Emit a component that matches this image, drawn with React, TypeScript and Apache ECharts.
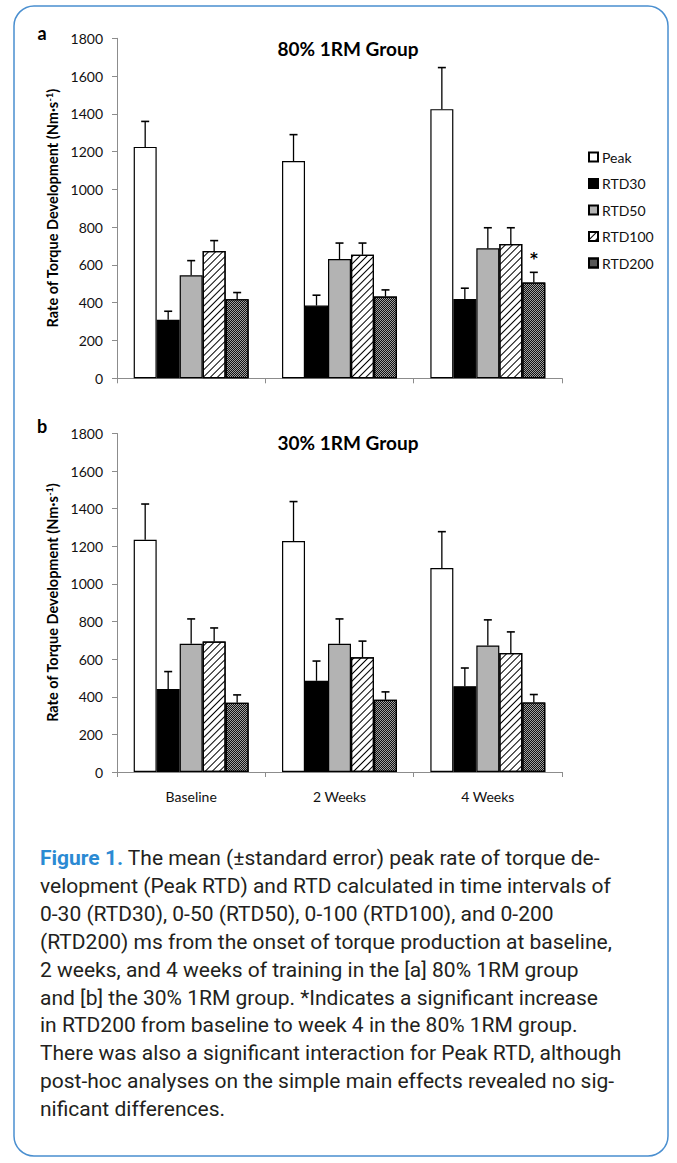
import React, { useEffect, useRef } from 'react';
import * as echarts from 'echarts';

// ---------- data ----------
const categories = ['Baseline', '2 Weeks', '4 Weeks'];
const seriesNames = ['Peak', 'RTD30', 'RTD50', 'RTD100', 'RTD200'];
const yTickMin = 0;
const yTickMax = 1800;
const yTickStep = 200;

// (a) 80% 1RM group: means and standard errors
const peak80 = [1225, 1150, 1425];
const peak80Err = [135, 140, 220];
const rtd30_80 = [310, 385, 420];
const rtd30_80Err = [45, 55, 57];
const rtd50_80 = [545, 631, 688];
const rtd50_80Err = [78, 85, 109];
const rtd100_80 = [674, 654, 711];
const rtd100_80Err = [55, 62, 86];
const rtd200_80 = [419, 433, 507];
const rtd200_80Err = [35, 35, 54];
const rtd200_80Sig = [false, false, true];

// (b) 30% 1RM group
const peak30 = [1235, 1228, 1085];
const peak30Err = [190, 210, 193];
const rtd30_30 = [442, 485, 456];
const rtd30_30Err = [92, 105, 97];
const rtd50_30 = [682, 682, 673];
const rtd50_30Err = [132, 132, 136];
const rtd100_30 = [694, 610, 633];
const rtd100_30Err = [72, 86, 112];
const rtd200_30 = [368, 384, 370];
const rtd200_30Err = [42, 42, 42];
const noSig = [false, false, false];

const panelTitles = ['80% 1RM Group', '30% 1RM Group'];
const panelLetters = ['a', 'b'];
const captionLines = [
  '{fig|Figure 1.} The mean (±standard error) peak rate of torque de-',
  'velopment (Peak RTD) and RTD calculated in time intervals of',
  '0-30 (RTD30), 0-50 (RTD50), 0-100 (RTD100), and 0-200',
  '(RTD200) ms from the onset of torque production at baseline,',
  '2 weeks, and 4 weeks of training in the [a] 80% 1RM group',
  'and [b] the 30% 1RM group. *Indicates a significant increase',
  'in RTD200 from baseline to week 4 in the 80% 1RM group.',
  'There was also a significant interaction for Peak RTD, although',
  'post-hoc analyses on the simple main effects revealed no sig-',
  'nificant differences.',
];

// ---------- styles ----------
const CAT_GAP = 0.225;
const FONT = 'Lato, "Open Sans", sans-serif';
const AXIS_GRAY = '#8c8c8c';
const barStyles: any[] = [
  { color: '#ffffff', borderColor: '#000', borderWidth: 1.2 },
  { color: '#000000', borderColor: '#000', borderWidth: 1.2 },
  { color: '#b3b3b3', borderColor: '#000', borderWidth: 1.2 },
  {
    color: '#ffffff', borderColor: '#000', borderWidth: 1.2,
    decal: { symbol: 'rect', symbolSize: 1, dashArrayX: [1, 0], dashArrayY: [0.8, 3.2], rotation: -Math.PI / 4, color: '#000' },
  },
  {
    color: '#a0a0a0', borderColor: '#000', borderWidth: 1.2,
    decal: { symbol: 'rect', symbolSize: 1, dashArrayX: [[1, 1], [0, 1, 1, 0]], dashArrayY: [1, 0], color: '#111' },
  },
];

const grids = [
  { left: 117, top: 38.3, width: 445, height: 340 },
  { left: 117, top: 433.5, width: 445, height: 338.5 },
];

function errSeries(idx: number, values: number[], errs: number[], axis: number) {
  return {
    type: 'custom',
    name: 'err-' + axis + '-' + idx,
    xAxisIndex: axis,
    yAxisIndex: axis,
    silent: true,
    z: 5,
    itemStyle: { color: '#000000' },
    encode: { x: 0, y: 1 },
    data: values.map((v, k) => [k, v, errs[k]]),
    renderItem: (params: any, api: any) => {
      const cat = api.value(0);
      const v = api.value(1);
      const e = api.value(2);
      const p0 = api.coord([cat, v]);
      const p1 = api.coord([cat, v + e]);
      const band = api.size([1, 0])[0];
      const inner = band * (1 - CAT_GAP);
      const bw = inner / seriesNames.length;
      const x = p0[0] - inner / 2 + bw * (idx + 0.5);
      return {
        type: 'group',
        children: [
          { type: 'line', shape: { x1: x, y1: p0[1], x2: x, y2: p1[1] }, style: { stroke: '#000', lineWidth: 1.3 } },
          { type: 'line', shape: { x1: x - 4, y1: p1[1], x2: x + 4, y2: p1[1] }, style: { stroke: '#000', lineWidth: 1.6 } },
        ],
      };
    },
  };
}

function panelSeries(axis: number, vals: number[][], errs: number[][], sigs: boolean[][]) {
  const out: any[] = [];
  seriesNames.forEach((name, i) => {
    out.push({
      type: 'bar',
      name,
      xAxisIndex: axis,
      yAxisIndex: axis,
      data: vals[i].map((v, k) => sigs[i][k]
        ? {
          value: v,
          label: {
            show: true, formatter: '*', position: 'top', distance: 16,
            color: '#000000', fontFamily: '"DejaVu Sans", sans-serif', fontWeight: 'bold', fontSize: 15,
          },
        }
        : v),
      barGap: '0%',
      barCategoryGap: (CAT_GAP * 100) + '%',
      itemStyle: barStyles[i],
      emphasis: { disabled: true },
    });
  });
  seriesNames.forEach((name, i) => {
    out.push(errSeries(i, vals[i], errs[i], axis));
  });
  return out;
}

function yAxisOpt(gridIndex: number) {
  return {
    type: 'value',
    gridIndex,
    min: yTickMin,
    max: yTickMax,
    interval: yTickStep,
    name: 'Rate of Torque Development (Nm·s{sup|-1})',
    nameLocation: 'middle',
    nameRotate: 90,
    nameGap: 57,
    nameTextStyle: {
      fontFamily: FONT, fontWeight: 'bold', fontSize: 14.5, color: '#000',
      rich: { sup: { fontFamily: FONT, fontWeight: 'bold', fontSize: 9, color: '#000', verticalAlign: 'top', lineHeight: 11 } },
    },
    axisLine: { show: true, lineStyle: { color: AXIS_GRAY, width: 1 } },
    axisTick: { show: true, length: 5, lineStyle: { color: AXIS_GRAY, width: 1 } },
    axisLabel: { fontFamily: FONT, fontSize: 14, color: '#111', margin: 14, formatter: (v: number) => String(v) },
    splitLine: { show: false },
  };
}

function xAxisOpt(gridIndex: number, showLabels: boolean) {
  return {
    type: 'category',
    gridIndex,
    data: categories,
    axisLine: { show: true, lineStyle: { color: AXIS_GRAY, width: 1 } },
    axisTick: { show: true, length: 5, alignWithLabel: false, lineStyle: { color: AXIS_GRAY, width: 1 } },
    axisLabel: { show: showLabels, fontFamily: FONT, fontSize: 14, color: '#111', margin: 17 },
    splitLine: { show: false },
  };
}

const option: any = {
  animation: false,
  backgroundColor: '#ffffff',
  grid: grids,
  xAxis: [xAxisOpt(0, false), xAxisOpt(1, true)],
  yAxis: [yAxisOpt(0), yAxisOpt(1)],
  legend: {
    data: seriesNames,
    orient: 'vertical',
    left: 588,
    top: 150,
    icon: 'rect',
    itemWidth: 9,
    itemHeight: 9,
    itemGap: 12.5,
    padding: 0,
    selectedMode: false,
    textStyle: { fontFamily: FONT, fontSize: 14, color: '#111', padding: [0, 0, 0, -1] },
  },
  series: [
    ...panelSeries(0,
      [peak80, rtd30_80, rtd50_80, rtd100_80, rtd200_80],
      [peak80Err, rtd30_80Err, rtd50_80Err, rtd100_80Err, rtd200_80Err],
      [noSig, noSig, noSig, noSig, rtd200_80Sig]),
    ...panelSeries(1,
      [peak30, rtd30_30, rtd50_30, rtd100_30, rtd200_30],
      [peak30Err, rtd30_30Err, rtd50_30Err, rtd100_30Err, rtd200_30Err],
      [noSig, noSig, noSig, noSig, noSig]),
  ],
  graphic: [
    {
      type: 'rect', z: -1,
      shape: { x: 14, y: 6, width: 654, height: 1150, r: 20 },
      style: { fill: 'none', stroke: '#4a8fd0', lineWidth: 1.5 },
    },
    {
      type: 'text', x: 42, y: 33,
      style: { text: panelLetters[0], fontFamily: FONT, fontWeight: 'bold', fontSize: 18, fill: '#000', align: 'center', verticalAlign: 'middle' },
    },
    {
      type: 'text', x: 42, y: 426,
      style: { text: panelLetters[1], fontFamily: FONT, fontWeight: 'bold', fontSize: 18, fill: '#000', align: 'center', verticalAlign: 'middle' },
    },
    {
      type: 'text', x: 348, y: 48,
      style: { text: panelTitles[0], fontFamily: FONT, fontWeight: 'bold', fontSize: 19, fill: '#000', align: 'center', verticalAlign: 'middle' },
    },
    {
      type: 'text', x: 348, y: 442,
      style: { text: panelTitles[1], fontFamily: FONT, fontWeight: 'bold', fontSize: 19, fill: '#000', align: 'center', verticalAlign: 'middle' },
    },
    ...captionLines.map((line, i) => ({
      type: 'text',
      x: 40,
      y: 858 + i * 27.9,
      style: {
        text: line,
        fontFamily: 'Roboto, sans-serif',
        fontSize: 21,
        fill: '#231f20',
        align: 'left',
        verticalAlign: 'middle',
        rich: {
          fig: { fontFamily: 'Roboto, sans-serif', fontSize: 21, fontWeight: 'bold', fill: '#2b8ad3' },
        },
      },
    })),
  ],
};

export default function App() {
  const ref = useRef<HTMLDivElement>(null);
  useEffect(() => {
    document.body.style.margin = '0';
    const chart = echarts.init(ref.current as HTMLDivElement, null, { renderer: 'svg' });
    chart.setOption(option);
    return () => chart.dispose();
  }, []);
  return <div ref={ref} style={{ width: 677, height: 1163 }} />;
}
